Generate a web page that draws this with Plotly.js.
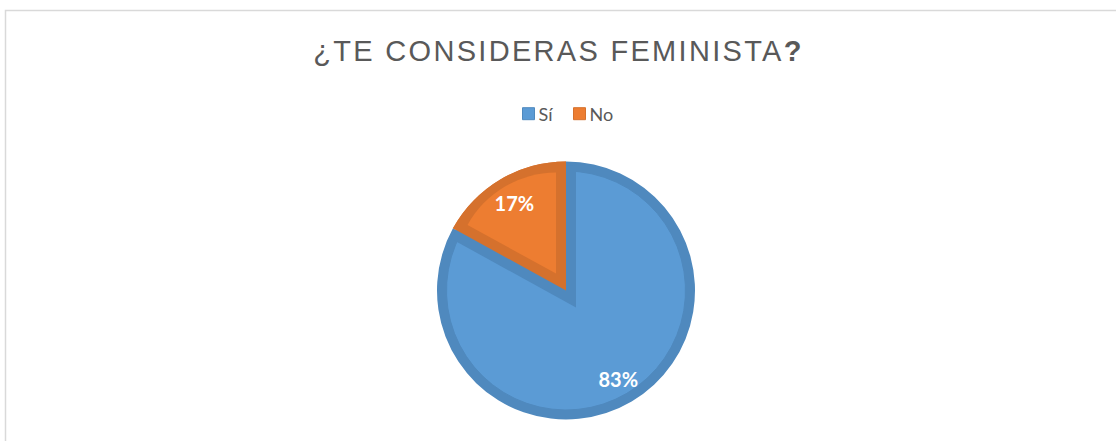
<!DOCTYPE html>
<html><head><meta charset="utf-8">
<script src="https://cdn.plot.ly/plotly-3.0.1.min.js"></script>
<style>
html,body{margin:0;padding:0;overflow:hidden;background:#fff;width:1116px;height:441px}
#chart{width:1116px;height:640px}
</style>
</head><body><div id="chart"></div>
<script>
// ---- data ----
const categories = ['Sí', 'No'];
const values = [83, 17];
const titleText = '¿TE CONSIDERAS FEMINISTA<b>?</b>';

// ---- styling / geometry ----
const W = 1116, H = 640;
const lightColors = ['#5B9BD5', '#ED7D31'];
const darkColors = ['#4F89BE', '#D5712D'];
const CLEAR = 'rgba(0,0,0,0)';
const cx = 566, cy = 290.5, R = 129, ring = 9.5, inset = 10;

const total = values.reduce((a, b) => a + b, 0);
const half = Math.PI * values[1] / total;          // half-angle of "No" slice
const noMid = 2 * Math.PI - half;                    // clockwise from top
const ux = Math.sin(noMid), uy = -Math.cos(noMid);   // screen dir of No bisector
const s = inset / Math.sin(half);

function dom(x, y, r) {
  return {x: [(x - r) / W, (x + r) / W], y: [1 - (y + r) / H, 1 - (y - r) / H]};
}
function pie(extra) {
  return Object.assign({
    type: 'pie', labels: categories, values: values, sort: false,
    direction: 'clockwise', rotation: 0, textinfo: 'none',
    hoverinfo: 'skip', showlegend: false
  }, extra);
}

// dilated No wedge (dark blue strip on Sí side)
const rD = s * Math.cos(half) + Math.sqrt(126 * 126 - inset * inset);
// inset light No wedge
const rN = -s * Math.cos(half) + Math.sqrt(118.3 * 118.3 - inset * inset);
// text-carrying pies (label distance from centre ~102px)
const rInsNo = 1 / (1 + 1 / Math.sin(half));
const rTextNo = 101.5 / (1 - rInsNo);
const rTextSi = 102.7 / 0.5;
const labelFont = {family: 'Lato', size: 20, weight: 700, color: '#FFFFFF'};

const traces = [
  pie({domain: dom(cx, cy, R), marker: {colors: darkColors}}),
  pie({domain: dom(cx, cy, R - ring), showlegend: true,
       marker: {colors: lightColors, line: {color: darkColors, width: 1}}}),
  pie({domain: dom(cx - ux * s, cy - uy * s, rD), marker: {colors: [CLEAR, darkColors[0]]}}),
  pie({domain: dom(cx, cy, R), marker: {colors: [CLEAR, darkColors[1]]}}),
  pie({domain: dom(cx + ux * s, cy + uy * s, rN), marker: {colors: [CLEAR, lightColors[1]]}}),
  pie({domain: dom(cx, cy, rTextSi), marker: {colors: [CLEAR, CLEAR]},
       textinfo: 'percent', texttemplate: ['%{percent}', ''], textposition: 'inside',
       insidetextorientation: 'horizontal', textfont: labelFont}),
  pie({domain: dom(cx, cy, rTextNo), marker: {colors: [CLEAR, CLEAR]},
       textinfo: 'percent', texttemplate: ['', '%{percent}'], textposition: 'inside',
       insidetextorientation: 'horizontal', textfont: labelFont})
];

const layout = {
  width: W, height: H,
  margin: {l: 0, r: 0, t: 0, b: 0},
  paper_bgcolor: '#FFFFFF',
  title: {
    text: titleText,
    font: {family: 'Liberation Sans', size: 29, color: '#595959'},
    x: 558.5 / W, xref: 'paper', xanchor: 'center',
    y: 1 - 51.2 / H, yref: 'container', yanchor: 'middle'
  },
  legend: {
    orientation: 'h', x: 567.5 / W, xanchor: 'center',
    y: 1 - 114 / H, yanchor: 'middle',
    font: {family: 'Lato', size: 18, color: '#595959'},
    itemclick: false, itemdoubleclick: false
  },
  shapes: [{
    type: 'rect', xref: 'paper', yref: 'paper',
    x0: 5.5 / W, x1: 1.2, y0: -0.5, y1: 1 - 10.5 / H,
    line: {color: '#D9D9D9', width: 1.5}, fillcolor: CLEAR, layer: 'below'
  }]
};

Plotly.newPlot('chart', traces, layout, {displayModeBar: false, staticPlot: true}).then(() => {
  document.querySelectorAll('.gtitle').forEach(t => t.style.letterSpacing = '2.3px');
  // tighten legend spacing like the reference (symbol centres at ~528.5 and ~579.5)
  const targets = [528.5, 579.5];
  const items = Array.from(document.querySelectorAll('.legend .traces'));
  items.forEach((g, i) => {
    const sym = g.querySelector('.legendpoints path');
    const txt = g.querySelector('.legendtext');
    if (!sym || targets[i] === undefined) return;
    const r = sym.getBoundingClientRect();
    const c = (r.left + r.right) / 2;
    const m = /translate\(\s*([-\d.e]+)[ ,]+([-\d.e]+)\s*\)/.exec(g.getAttribute('transform') || '');
    if (m) g.setAttribute('transform', 'translate(' + (parseFloat(m[1]) + targets[i] - c) + ',' + m[2] + ')');
    if (txt) txt.setAttribute('x', parseFloat(txt.getAttribute('x')) - 10);
  });
  const clip = document.querySelector('.legend .scrollbox');
  if (clip) clip.removeAttribute('clip-path');
});
</script>
</body></html>
